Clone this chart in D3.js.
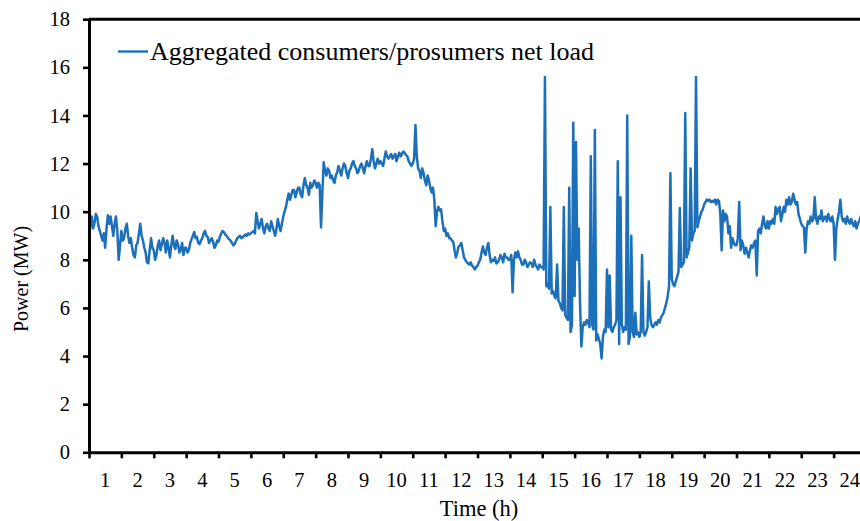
<!DOCTYPE html>
<html>
<head>
<meta charset="utf-8">
<script src="https://cdn.jsdelivr.net/npm/d3@7/dist/d3.min.js"></script>
<style>
  html, body { margin: 0; padding: 0; background: #fff; }
  svg { display: block; }
  text { font-family: "Liberation Serif", "Times New Roman", serif; fill: #000; }
</style>
</head>
<body>
<svg id="chart" width="860" height="521"></svg>
<script>
// Hour labels shown under the axis, one per hourly bin
const hourLabels = d3.range(1, 25).map(String);
// Y tick values (MW)
const powerTicks = [0, 2, 4, 6, 8, 10, 12, 14, 16, 18];
// Sampling interval of the net-load series, in minutes
const stepMinutes = 2.5;
const seriesName = "Aggregated consumers/prosumers net load";

// Aggregated net load (MW), 2.5-minute samples, one row per hour
const h00 = [9.1, 9.4, 9.8, 9.3, 9.5, 9.9, 9.8, 9.4, 9.2, 9.0, 8.8, 9.1, 8.5, 9.3, 9.85, 9.5, 9.8, 9.4, 9.0, 9.5, 9.8, 9.2, 8.0, 8.6];
const h01 = [9.2, 8.8, 8.9, 9.3, 9.5, 9.0, 8.7, 8.9, 8.5, 8.2, 8.1, 8.6, 8.7, 9.1, 9.5, 9.0, 8.8, 8.5, 8.3, 7.9, 7.85, 8.4, 8.9, 8.5];
const h02 = [8.4, 8.0, 8.2, 8.6, 8.8, 8.4, 8.65, 8.9, 8.7, 8.3, 8.8, 8.5, 8.1, 8.6, 9.0, 8.6, 8.45, 8.8, 8.65, 8.3, 8.4, 8.7, 8.2, 8.5];
const h03 = [8.5, 8.3, 8.4, 8.7, 8.85, 9.0, 9.15, 8.9, 8.95, 8.7, 8.65, 8.8, 8.9, 9.1, 9.2, 9.0, 8.95, 8.7, 8.8, 8.9, 8.75, 8.5, 8.6, 8.8];
const h04 = [8.75, 8.95, 9.1, 9.2, 9.15, 9.05, 9.0, 8.9, 8.85, 8.8, 8.7, 8.6, 8.65, 8.8, 8.9, 8.95, 9.0, 8.9, 8.95, 9.0, 9.05, 9.0, 9.1, 9.05];
const h05 = [9.1, 9.15, 9.2, 9.1, 9.95, 9.6, 9.3, 9.5, 9.7, 9.3, 9.1, 9.4, 9.5, 9.3, 9.2, 9.6, 9.4, 9.2, 9.0, 9.3, 9.7, 9.4, 9.2, 9.5];
const h06 = [9.8, 10.0, 10.2, 10.5, 10.75, 10.5, 10.7, 10.9, 10.9, 10.6, 10.8, 11.0, 11.0, 10.7, 10.6, 11.1, 11.4, 11.1, 11.0, 10.7, 11.2, 11.0, 11.1, 11.3];
const h07 = [11.2, 11.0, 11.2, 11.1, 9.35, 10.8, 12.05, 11.7, 11.5, 11.8, 11.7, 11.4, 11.5, 11.3, 11.2, 11.5, 11.65, 11.9, 11.7, 11.5, 11.8, 12.0, 11.9, 11.6];
const h08 = [11.4, 11.7, 11.8, 12.0, 12.1, 11.9, 11.8, 11.6, 11.7, 11.9, 12.0, 11.8, 11.6, 11.9, 12.1, 11.9, 11.9, 12.2, 12.6, 12.1, 11.8, 12.0, 12.2, 12.0];
const h09 = [12.1, 12.0, 11.9, 12.2, 12.5, 12.3, 12.2, 12.3, 12.4, 12.2, 12.3, 12.4, 12.1, 12.3, 12.45, 12.3, 12.4, 12.5, 12.45, 12.35, 12.3, 12.1, 12.0, 11.9];
const h10 = [12.0, 12.2, 13.6, 12.3, 11.8, 11.7, 11.4, 11.8, 11.6, 11.3, 11.1, 11.5, 11.3, 11.0, 10.8, 11.0, 10.5, 9.4, 10.0, 10.2, 10.05, 10.1, 9.6, 9.2];
const h11 = [9.3, 9.0, 9.1, 8.9, 8.9, 8.8, 8.75, 8.4, 8.1, 8.3, 8.55, 8.6, 8.7, 8.4, 8.1, 8.0, 7.9, 7.85, 7.8, 7.9, 7.75, 7.7, 7.6, 7.7];
const h12 = [7.75, 7.9, 8.0, 8.3, 8.55, 8.3, 8.2, 8.5, 8.7, 8.2, 7.9, 8.0, 7.95, 8.1, 7.85, 7.9, 8.0, 8.2, 8.1, 7.9, 8.25, 8.1, 8.1, 8.0];
const h13 = [8.0, 8.2, 6.65, 8.0, 8.3, 8.1, 8.35, 8.1, 8.0, 7.8, 7.8, 8.0, 7.9, 7.7, 7.8, 7.9, 7.85, 7.7, 8.0, 7.8, 7.7, 7.6, 7.8, 7.7];
const h14 = [7.7, 7.6, 15.6, 6.9, 7.0, 6.8, 10.2, 6.6, 6.7, 6.5, 6.4, 7.8, 6.3, 6.2, 6.0, 5.9, 10.2, 5.7, 5.6, 5.5, 11.0, 5.0, 5.3, 13.7];
const h15 = [6.5, 12.9, 8.0, 9.3, 6.2, 4.4, 5.2, 5.4, 5.3, 5.5, 5.4, 5.2, 12.3, 5.3, 5.1, 13.4, 4.65, 4.9, 4.7, 4.5, 3.9, 4.8, 5.1, 5.0];
const h16 = [7.6, 5.2, 7.35, 5.1, 5.0, 5.2, 5.3, 5.5, 12.1, 4.5, 10.6, 5.3, 5.0, 5.2, 5.1, 14.0, 4.5, 4.8, 9.0, 5.0, 4.8, 5.8, 4.9, 5.0];
const h17 = [4.8, 5.0, 8.2, 5.0, 4.85, 5.0, 5.2, 7.1, 5.6, 5.3, 5.2, 5.3, 5.4, 5.3, 5.5, 5.4, 5.6, 5.7, 5.8, 6.0, 6.2, 6.5, 6.9, 11.6];
const h18 = [7.2, 7.0, 6.9, 7.1, 7.3, 7.5, 10.15, 7.7, 7.8, 7.9, 14.1, 8.1, 8.3, 8.5, 11.8, 8.8, 9.1, 9.2, 15.6, 9.35, 9.6, 9.8, 10.0, 10.1];
const h19 = [10.3, 10.4, 10.5, 10.45, 10.5, 10.4, 10.45, 10.4, 10.5, 10.3, 10.5, 10.45, 9.9, 8.4, 10.05, 9.6, 9.9, 9.8, 9.1, 9.4, 8.5, 8.9, 8.7, 8.6];
const h20 = [8.6, 8.9, 10.4, 8.4, 8.8, 8.6, 8.25, 8.5, 8.3, 8.1, 8.4, 8.6, 8.5, 8.7, 8.8, 7.35, 9.2, 9.3, 9.1, 9.5, 9.8, 9.4, 9.3, 9.6];
const h21 = [9.3, 9.6, 9.5, 9.7, 9.5, 10.2, 9.9, 10.1, 10.2, 9.6, 9.9, 10.2, 10.0, 10.5, 10.3, 10.6, 10.3, 10.4, 10.75, 10.5, 10.3, 10.4, 9.9, 9.7];
const h22 = [9.5, 9.4, 9.35, 8.3, 9.3, 9.6, 9.5, 9.8, 9.6, 9.7, 10.6, 9.7, 9.5, 9.8, 9.7, 10.05, 9.6, 9.75, 9.8, 9.6, 9.9, 9.7, 9.6, 9.8];
const h23 = [9.5, 8.0, 9.3, 9.7, 10.0, 10.5, 9.8, 9.6, 9.7, 9.5, 9.8, 9.6, 9.5, 9.7, 9.5, 9.4, 9.6, 9.3, 9.5, 9.6, 9.8, 9.6, 9.7, 9.9];

const netLoad = [].concat(h00, h01, h02, h03, h04, h05, h06, h07, h08, h09, h10, h11,
                          h12, h13, h14, h15, h16, h17, h18, h19, h20, h21, h22, h23);
const series = netLoad.map((v, i) => ({ t: i * stepMinutes / 60, v }));

const lineColor = "#1c6fb9";
const svg = d3.select("#chart");

const plot = { left: 89, right: 866, top: 19.2, bottom: 452.3 };

const x = d3.scaleLinear().domain([0, 24]).range([plot.left, plot.right]);
const xBand = d3.scaleBand().domain(hourLabels).range([plot.left, plot.right]);
const y = d3.scaleLinear().domain([0, 18]).range([plot.bottom, plot.top]);

// Net load trace
svg.append("path")
  .datum(series)
  .attr("fill", "none")
  .attr("stroke", lineColor)
  .attr("stroke-width", 2.5)
  .attr("stroke-linejoin", "round")
  .attr("d", d3.line().x(d => x(d.t)).y(d => y(d.v)));

// Top frame edge
svg.append("line")
  .attr("x1", plot.left).attr("x2", plot.right)
  .attr("y1", plot.top).attr("y2", plot.top)
  .attr("stroke", "#000").attr("stroke-width", 3);

// Y axis
const yAxis = svg.append("g")
  .attr("transform", `translate(${plot.left},0)`)
  .call(d3.axisLeft(y).tickValues(powerTicks).tickSize(6).tickSizeOuter(0).tickPadding(13));
yAxis.select(".domain").attr("stroke", "#000").attr("stroke-width", 3);
yAxis.selectAll(".tick line").attr("stroke", "#000").attr("stroke-width", 2.6);
yAxis.selectAll(".tick text").style("font-size", "20.5px")
  .style("font-family", "'Liberation Serif', 'Times New Roman', serif");

// X axis: tick marks on hour boundaries
const xTicks = svg.append("g")
  .attr("transform", `translate(0,${plot.bottom})`)
  .call(d3.axisBottom(x).tickValues(d3.range(0, 25)).tickSize(6).tickSizeOuter(0).tickFormat(""));
xTicks.select(".domain").attr("stroke", "#000").attr("stroke-width", 3);
xTicks.selectAll(".tick line").attr("stroke", "#000").attr("stroke-width", 2.6);

// X axis: hour labels centred in each bin
const xLabels = svg.append("g")
  .attr("transform", `translate(0,${plot.bottom})`)
  .call(d3.axisBottom(xBand).tickSize(0).tickPadding(20));
xLabels.select(".domain").remove();
xLabels.selectAll(".tick text").style("font-size", "20.5px")
  .style("font-family", "'Liberation Serif', 'Times New Roman', serif");

// Axis titles
svg.append("text")
  .attr("x", 479).attr("y", 516)
  .attr("text-anchor", "middle")
  .style("font-size", "22.5px")
  .text("Time (h)");

svg.append("text")
  .attr("transform", "translate(28,279) rotate(-90)")
  .attr("text-anchor", "middle")
  .style("font-size", "20px")
  .text("Power (MW)");

// Legend
const legend = svg.append("g");
legend.append("line")
  .attr("x1", 118).attr("x2", 148)
  .attr("y1", 51.5).attr("y2", 51.5)
  .attr("stroke", lineColor).attr("stroke-width", 2.4);
legend.append("text")
  .attr("x", 150).attr("y", 60)
  .style("font-size", "26px")
  .text(seriesName);
</script>
</body>
</html>
